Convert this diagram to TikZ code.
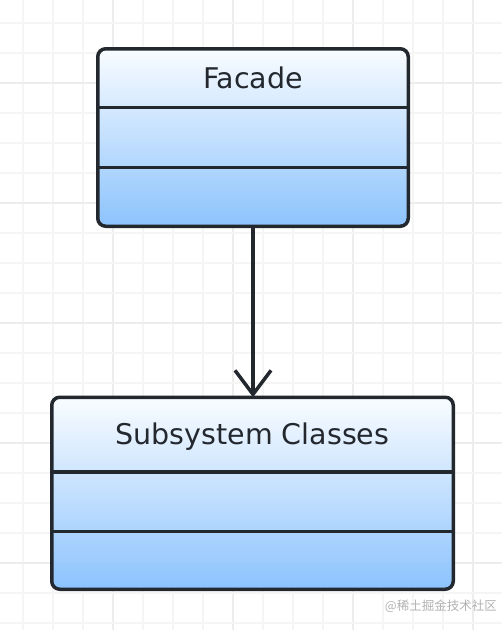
\documentclass[tikz,border=0pt]{standalone}
\usepackage{fontspec}
\setmainfont{DejaVu Sans}
\newfontfamily\cjkfont{Noto Sans CJK SC}
\usepackage{tikz}
\usetikzlibrary{arrows.meta,positioning,calc}
\definecolor{gridminor}{RGB}{245,245,245}
\definecolor{gridmajor}{RGB}{237,237,237}
\definecolor{classline}{RGB}{35,40,47}
\definecolor{classtop}{RGB}{249,252,255}
\definecolor{classbottom}{RGB}{140,195,253}
\definecolor{marktext}{RGB}{178,178,178}
\tikzset{
    classbox/.style={draw=classline, line width=3.5pt, rounded corners=8pt,
        top color=classtop, bottom color=classbottom, inner sep=0pt, outer sep=0pt},
    divider/.style={draw=classline, line width=3.5pt},
    classname/.style={text=classline, font=\fontsize{28.5}{34}\selectfont,
        text height=21pt, text depth=0pt, inner sep=0pt},
}

\begin{document}
\begin{tikzpicture}[x=1pt, y=-1pt]
                    \useasboundingbox (0,0) rectangle (502,630);
                    \fill[white] (0,0) rectangle (502,630);
                    \begin{scope}
                        \clip (0,0) rectangle (502,630);
                        \foreach \i in {0,...,16}{
                            \pgfmathtruncatemacro{\k}{mod(\i,4)}
                            \ifnum\k=3 \def\gc{gridmajor}\else\def\gc{gridminor}\fi
                            \draw[\gc, line width=1.2pt] ({23+30*\i},0) -- ({23+30*\i},630);
                        }
                        \foreach \j in {0,...,20}{
                            \pgfmathtruncatemacro{\k}{mod(\j,4)}
                            \ifnum\k=2 \def\gc{gridmajor}\else\def\gc{gridminor}\fi
                            \draw[\gc, line width=1.2pt] (0,{23+30*\j}) -- (502,{23+30*\j});
                        }
                    \end{scope}
                    \node[classbox, minimum width=310.5pt, minimum height=177.5pt] (facade) at (253,137.5) {};
                    \draw[divider] ($(facade.north west)!.332!(facade.south west)$) -- ($(facade.north east)!.332!(facade.south east)$);
                    \draw[divider] ($(facade.north west)!.668!(facade.south west)$) -- ($(facade.north east)!.668!(facade.south east)$);
                    \node[classname] (facade-name) at ($(facade.north)!.162!(facade.south)$) {Facade};
                    \node[classbox, minimum width=401.5pt, minimum height=192pt] (subsystem) at (252.5,493.25) {};
                    \draw[divider] ($(subsystem.north west)!.388!(subsystem.south west)$) -- ($(subsystem.north east)!.388!(subsystem.south east)$);
                    \draw[divider] ($(subsystem.north west)!.70!(subsystem.south west)$) -- ($(subsystem.north east)!.70!(subsystem.south east)$);
                    \node[classname] (subsystem-name) at ($(subsystem.north)!.189!(subsystem.south)$) {Subsystem Classes};
                    \draw[-{Straight Barb[length=24pt, width=36pt]}, classline, line width=3.5pt] (facade.south) -- (facade.south |- subsystem.north);
                    \node[font=\cjkfont\fontsize{12.5}{14}\selectfont, text=marktext, anchor=east, inner sep=0pt] (mark) at (497,606) {@稀土掘金技术社区};
                \end{tikzpicture}
\end{document}
